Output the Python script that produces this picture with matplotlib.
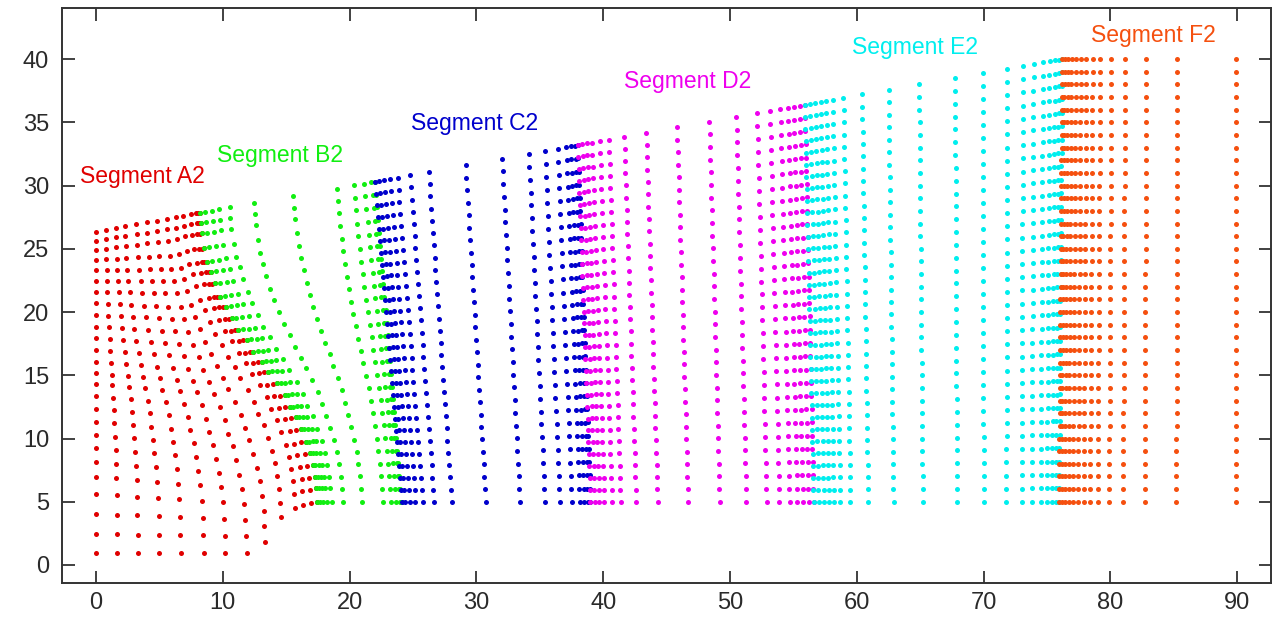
import numpy as np
import matplotlib.pyplot as plt

plt.rcParams['font.family'] = ['Liberation Sans', 'DejaVu Sans']

# ---- data ----
# top boundary of the whole mesh (x, y)
top_x = [0.0, 8.2, 22.0, 38.0, 55.9, 76.2, 89.9]
top_y = [26.35, 27.85, 30.3, 33.2, 36.4, 40.0, 40.0]
y_bottom = 5.0

# segment A2 (red): left edge rows, interface with B2, bottom and top rows
a2_left_y = [0.97, 2.44, 4.06, 5.63, 6.98, 8.13, 9.23, 10.28, 11.33, 12.35,
             13.33, 14.3, 15.15, 16.07, 17.0, 17.92, 18.84, 19.76, 20.69,
             21.61, 22.47, 23.32, 24.11, 24.9, 25.64, 26.35]
a2_iface_x = [17.45, 17.35, 17.27, 17.1, 16.87, 16.6, 16.2, 15.8, 15.3, 14.9,
              14.3, 13.6, 13.08, 12.42, 11.89, 11.23, 10.7, 10.23, 9.78,
              9.38, 9.07, 8.73, 8.52, 8.33, 8.25, 8.2]
a2_iface_y = [5.0, 6.06, 6.98, 7.91, 8.83, 9.75, 10.73, 11.68, 12.51, 13.44,
              14.36, 15.28, 16.07, 16.86, 17.79, 18.58, 19.5, 20.42, 21.21,
              22.27, 23.19, 23.98, 25.04, 26.22, 27.06, 27.85]
a2_bottom_x = [0.0, 1.66, 3.3, 5.0, 6.7, 8.5, 10.2, 11.9, 13.35, 14.6, 15.7,
               16.35, 17.0, 17.45]
a2_bottom_y = [0.97, 0.97, 0.97, 0.97, 0.97, 0.97, 0.97, 0.97, 1.84, 3.77,
               4.53, 4.74, 4.88, 5.0]
a2_top_x = [0.0, 0.8, 1.6, 2.3, 3.2, 4.0, 4.8, 5.6, 6.3, 6.9, 7.5, 7.9,
            8.05, 8.2]

# segments B2..F2: column positions along y = 5, right edge top x, rows
b2_cols = [17.45, 17.66, 17.92, 18.19, 18.58, 19.5, 21.0, 22.65, 23.3, 23.7,
           23.97, 24.1]
c2_cols = [24.1, 24.4, 24.75, 25.2, 25.77, 26.68, 28.05, 30.76, 33.44, 35.41,
           36.59, 37.52, 38.17, 38.5, 38.8, 39.0]
d2_cols = [39.0, 39.35, 39.7, 40.1, 40.7, 41.4, 42.6, 44.3, 46.7, 49.2, 51.3,
           52.9, 53.9, 54.7, 55.3, 55.75, 56.2, 56.6]
e2_cols = [56.6, 57.0, 57.4, 57.8, 58.2, 58.7, 59.5, 60.9, 62.9, 65.2, 67.9,
           70.0, 71.8, 73.0, 73.8, 74.5, 75.0, 75.4, 75.7, 75.95]
f2_cols = [75.95, 76.15, 76.4, 76.7, 77.05, 77.45, 77.9, 78.4, 79.0, 79.9,
           81.0, 82.7, 85.2, 89.9]
right_top_x = [22.0, 38.0, 55.9, 76.2, 89.9]
n_rows = [26, 28, 31, 34, 36]

names = ['Segment A2', 'Segment B2', 'Segment C2', 'Segment D2', 'Segment E2',
         'Segment F2']
colors = ['#e00000', '#11ee11', '#0000cc', '#ee00ee', '#00eeee', '#f5500f']
label_x = [3.7, 14.55, 29.85, 46.7, 64.6, 83.4]
label_y = [30.7, 32.4, 34.9, 38.2, 40.9, 41.9]


def frac(p):
    d = np.r_[0, np.cumsum(np.hypot(*np.diff(p, axis=0).T))]
    return d / d[-1]


def tfi(B, T, L, R, s, t):
    # transfinite blend of the four boundaries of one block
    S = s[None, :, None]
    U = t[:, None, None]
    P = ((1 - S) * L[:, None, :] + S * R[:, None, :]
         + (1 - U) * B[None, :, :] + U * T[None, :, :]
         - ((1 - S) * (1 - U) * B[0] + S * (1 - U) * B[-1]
            + (1 - S) * U * T[0] + S * U * T[-1]))
    return P.reshape(-1, 2)


def line(p0, p1, n):
    t = np.linspace(0, 1, n)[:, None]
    return np.asarray(p0) + t * (np.asarray(p1) - np.asarray(p0))


# segment A2
L = np.c_[np.zeros(len(a2_left_y)), a2_left_y]
R = np.c_[a2_iface_x, a2_iface_y]
B = np.c_[a2_bottom_x, a2_bottom_y]
T = np.c_[a2_top_x, np.interp(a2_top_x, top_x, top_y)]
s = frac(T)
t = (frac(L) + frac(R)) / 2
meshes = [tfi(B, T, L, R, s, t)]

# segments B2..F2
left = R
cols_all = [b2_cols, c2_cols, d2_cols, e2_cols, f2_cols]
for k, cols in enumerate(cols_all):
    n = n_rows[k]
    xr_top = right_top_x[k]
    right = line((cols[-1], y_bottom), (xr_top, np.interp(xr_top, top_x, top_y)), n)
    if k > 0:
        x0 = cols_all[k - 1][-1]
        x0_top = right_top_x[k - 1]
        left = line((x0, y_bottom), (x0_top, np.interp(x0_top, top_x, top_y)), n)
    c = np.array(cols)
    s = (c - c[0]) / (c[-1] - c[0])
    t = frac(left)
    B = np.c_[c, np.full(len(c), y_bottom)]
    T = (1 - s)[:, None] * left[-1] + s[:, None] * right[-1]
    meshes.append(tfi(B, T, left, right, s, t))

fig = plt.figure(figsize=(12.74, 6.24), dpi=100)
ax = fig.add_axes([0.0484, 0.0662, 0.949, 0.9208])

for pts, col in zip(meshes, colors):
    ax.scatter(pts[:, 0], pts[:, 1], s=13, color=col, linewidths=0, zorder=3)

for name, x, y, col in zip(names, label_x, label_y, colors):
    ax.text(x, y, name, color=col, fontsize=16.5, ha='center', va='center')

ax.set_xlim(-2.7, 92.64)
ax.set_ylim(-1.4, 44.03)
ax.set_xticks(range(0, 91, 10))
ax.set_yticks(range(0, 41, 5))
ax.tick_params(direction='in', length=9, width=1.3, top=True, right=True,
               labelsize=17, labelcolor='#2a2a2a', color='#333333')
ax.tick_params(axis='x', pad=7)
ax.tick_params(axis='y', pad=9)
for sp in ax.spines.values():
    sp.set_linewidth(1.4)
    sp.set_color('#333333')

fig.savefig('out.png', dpi=100)
